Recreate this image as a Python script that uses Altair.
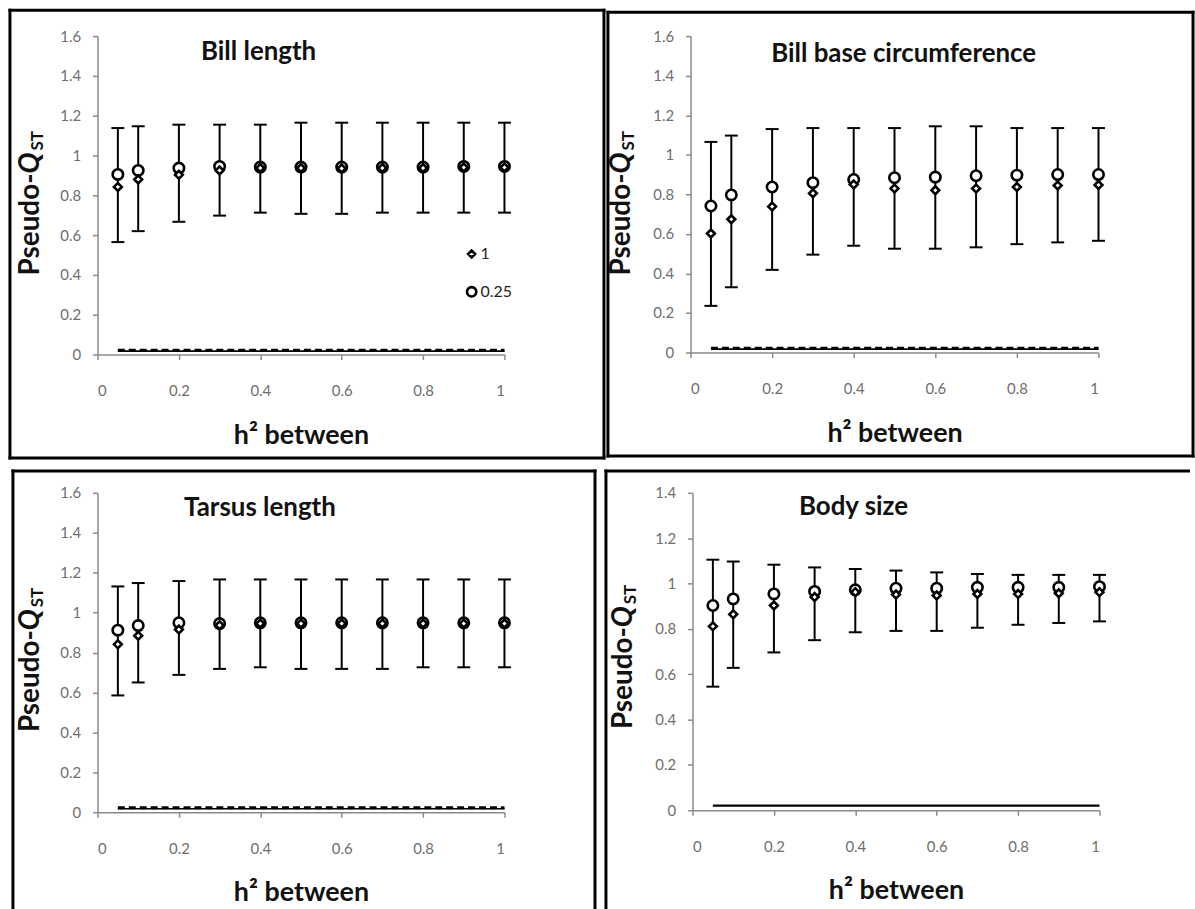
import altair as alt
import pandas as pd

# ---------------- data ----------------
H2 = [0.05, 0.1, 0.2, 0.3, 0.4, 0.5, 0.6, 0.7, 0.8, 0.9, 1.0]
SERIES = ["1", "0.25"]
SERIES_SHAPES = ["diamond", "circle"]
X_TICKS = [0, 0.2, 0.4, 0.6, 0.8, 1]
Y_TICKS_16 = [0, 0.2, 0.4, 0.6, 0.8, 1, 1.2, 1.4, 1.6]
Y_TICKS_14 = [0, 0.2, 0.4, 0.6, 0.8, 1, 1.2, 1.4]
BASE_X = [0.05, 1.0]

# Bill length
BL_HI = [1.138, 1.147, 1.155, 1.155, 1.155, 1.165, 1.165, 1.165, 1.165, 1.165, 1.165]
BL_LO = [0.565, 0.620, 0.667, 0.698, 0.713, 0.707, 0.707, 0.713, 0.713, 0.713, 0.713]
BL_D = [0.842, 0.880, 0.903, 0.925, 0.937, 0.937, 0.935, 0.937, 0.937, 0.940, 0.940]
BL_C = [0.905, 0.925, 0.937, 0.945, 0.942, 0.942, 0.942, 0.942, 0.942, 0.945, 0.945]
BL_SOLID = [0.017, 0.017]
BL_DASH = [0.022, 0.022]

# Bill base circumference
BB_HI = [1.065, 1.097, 1.130, 1.135, 1.135, 1.135, 1.144, 1.144, 1.135, 1.135, 1.135]
BB_LO = [0.236, 0.330, 0.418, 0.495, 0.540, 0.525, 0.525, 0.532, 0.548, 0.557, 0.565]
BB_D = [0.602, 0.674, 0.738, 0.805, 0.850, 0.830, 0.820, 0.830, 0.837, 0.845, 0.847]
BB_C = [0.741, 0.797, 0.837, 0.859, 0.875, 0.884, 0.887, 0.894, 0.897, 0.900, 0.900]
BB_SOLID = [0.017, 0.017]
BB_DASH = [0.022, 0.022]

# Tarsus length
TL_HI = [1.131, 1.148, 1.158, 1.166, 1.166, 1.166, 1.166, 1.166, 1.166, 1.166, 1.166]
TL_LO = [0.585, 0.650, 0.688, 0.718, 0.726, 0.718, 0.718, 0.718, 0.726, 0.726, 0.726]
TL_D = [0.841, 0.884, 0.915, 0.937, 0.945, 0.945, 0.945, 0.945, 0.945, 0.945, 0.945]
TL_C = [0.912, 0.935, 0.949, 0.945, 0.949, 0.949, 0.949, 0.949, 0.949, 0.949, 0.949]
TL_SOLID = [0.017, 0.017]
TL_DASH = [0.022, 0.022]

# Body size
BS_HI = [1.105, 1.097, 1.083, 1.071, 1.064, 1.057, 1.049, 1.042, 1.038, 1.038, 1.038]
BS_LO = [0.545, 0.628, 0.696, 0.750, 0.785, 0.791, 0.791, 0.805, 0.818, 0.826, 0.833]
BS_D = [0.811, 0.864, 0.903, 0.940, 0.962, 0.951, 0.947, 0.954, 0.954, 0.957, 0.962]
BS_C = [0.903, 0.932, 0.954, 0.965, 0.972, 0.979, 0.979, 0.983, 0.983, 0.983, 0.986]
BS_SOLID = [0.02, 0.02]

FONT = "Lato"
ONE = alt.Data(values=[{"k": 0}])
SIZES = {"1": 62, "0.25": 110}
PAD_L, PAD_T = 9, 8  # extra invisible room, removed again by negative padding


def edge_rect(x1, y1, x2, y2, color="black", opacity=1):
    # filled rectangle without stroke: its bounds are exact
    return alt.Chart(ONE).mark_rect(color=color, opacity=opacity, strokeWidth=0).encode(
        x=alt.value(x1), x2=alt.value(x2), y=alt.value(y1), y2=alt.value(y2))


def panel(title, W, H, ymax, yticks, lo, hi, d, c, solid, dash,
          pad, edges, title_xy, ytitle_x, ytitle_y, legend_xy=None):
    xs = alt.Scale(domain=[0, 1], nice=False, padding=0, zero=False)
    ys = alt.Scale(domain=[0, ymax], nice=False, padding=0)
    xaxis = alt.Axis(values=X_TICKS, format="~g", title="h² between",
                     titleFont=FONT, titleFontSize=27, titleFontWeight="bold",
                     titleColor="#111", titlePadding=24, labelOverlap=False,
                     tickCount=20)
    yaxis = alt.Axis(values=yticks, format="~g", title=None, labelOverlap=False,
                     tickCount=20)

    layers = [edge_rect(*pad, color="white", opacity=0)]
    for e in edges:
        layers.append(edge_rect(*e))

    # reference lines near zero (axes defined here)
    sdf = pd.DataFrame({"h2": BASE_X, "v": solid})
    layers.append(alt.Chart(sdf).mark_line(
        color="black", strokeWidth=1.6 if dash is not None else 2.2).encode(
        x=alt.X("h2:Q", scale=xs, axis=xaxis),
        y=alt.Y("v:Q", scale=ys, axis=yaxis)))
    if dash is not None:
        ddf = pd.DataFrame({"h2": BASE_X, "v": dash})
        layers.append(alt.Chart(ddf).mark_line(
            color="black", strokeWidth=3, strokeDash=[7, 4]).encode(
            x=alt.X("h2:Q", scale=xs), y=alt.Y("v:Q", scale=ys)))

    bdf = pd.DataFrame({"h2": H2, "lo": lo, "hi": hi})
    layers.append(alt.Chart(bdf).mark_rule(color="black", strokeWidth=2).encode(
        x=alt.X("h2:Q", scale=xs), y=alt.Y("lo:Q", scale=ys), y2="hi:Q"))
    for f in ["lo", "hi"]:
        layers.append(alt.Chart(bdf).mark_rule(
            color="black", strokeWidth=2, xOffset=-6.5, x2Offset=6.5).encode(
            x=alt.X("h2:Q", scale=xs), x2="h2:Q", y=alt.Y(f + ":Q", scale=ys)))

    cdf = pd.DataFrame({"h2": H2, "q": c})
    ddf2 = pd.DataFrame({"h2": H2, "q": d})
    for df_, shp in [(cdf, "circle"), (ddf2, "diamond")]:
        sz = SIZES[SERIES[SERIES_SHAPES.index(shp)]]
        layers.append(alt.Chart(df_).mark_point(
            shape=shp, fill="white", stroke="black", strokeWidth=2.6, opacity=1,
            fillOpacity=1, size=sz).encode(
            x=alt.X("h2:Q", scale=xs), y=alt.Y("q:Q", scale=ys)))

    # key in the first panel
    if legend_xy is not None:
        lx, ly = legend_xy
        for i, (lab, shp) in enumerate(zip(SERIES, SERIES_SHAPES)):
            layers.append(alt.Chart(ONE).mark_point(
                shape=shp, fill="white", stroke="black", strokeWidth=2.6, opacity=1,
                fillOpacity=1, size=SIZES[lab] * 0.8).encode(
                x=alt.value(lx), y=alt.value(ly + 38 * i)))
            layers.append(alt.Chart(ONE).mark_text(
                text=lab, align="left", baseline="middle", font=FONT, fontSize=16,
                color="#222").encode(x=alt.value(lx + 9), y=alt.value(ly + 38 * i)))

    # panel title inside the plot area
    layers.append(alt.Chart(ONE).mark_text(
        text=title, align="left", baseline="middle", font=FONT, fontSize=26,
        fontWeight="bold", color="#111").encode(
        x=alt.value(title_xy[0]), y=alt.value(title_xy[1])))

    # y-axis title: Pseudo-Q_ST
    layers.append(alt.Chart(ONE).mark_text(
        text="Pseudo-", angle=270, align="right", baseline="middle", font=FONT,
        fontSize=28, fontWeight="bold", color="#111").encode(
        x=alt.value(ytitle_x), y=alt.value(ytitle_y)))
    layers.append(alt.Chart(ONE).mark_text(
        text="Q", angle=270, align="left", baseline="middle", font=FONT,
        fontSize=28, fontWeight="bold", fontStyle="italic", color="#111").encode(
        x=alt.value(ytitle_x), y=alt.value(ytitle_y)))
    layers.append(alt.Chart(ONE).mark_text(
        text="ST", angle=270, align="left", baseline="middle", font=FONT,
        fontSize=17, fontWeight="bold", color="#111").encode(
        x=alt.value(ytitle_x + 7), y=alt.value(ytitle_y - 23)))

    return alt.layer(*layers).properties(width=W, height=H)


# panel 1: plot at (91, 32) in the page
p1 = panel("Bill length", 409, 320, 1.6, Y_TICKS_16, BL_LO, BL_HI, BL_D, BL_C,
           BL_SOLID, BL_DASH,
           pad=(-91 - PAD_L, -32 - PAD_T, 510.5, 425.5),
           edges=[(-89.5, -27.5, -86.5, 425.5), (-89.5, -27.5, 510.5, -24.5),
                  (507.5, -27.5, 510.5, 425.5), (-89.5, 422.5, 510.5, 425.5)],
           title_xy=(104, 16), ytitle_x=-67, ytitle_y=138, legend_xy=(376, 219))

# panel 2: plot at (686, 34)
p2 = panel("Bill base  circumference", 410, 318, 1.6, Y_TICKS_16, BB_LO, BB_HI, BB_D, BB_C,
           BB_SOLID, BB_DASH,
           pad=(-84.5, -34 - PAD_T, 506.5, 423.5),
           edges=[(-84.5, -25.5, -81.5, 423.5), (-84.5, -25.5, 506.5, -22.5),
                  (503.5, -25.5, 506.5, 423.5), (-84.5, 420.5, 506.5, 423.5)],
           title_xy=(81, 18), ytitle_x=-69, ytitle_y=138)

# panel 3: plot at (98, 487)
p3 = panel("Tarsus length", 409, 321, 1.6, Y_TICKS_16, TL_LO, TL_HI, TL_D, TL_C,
           TL_SOLID, TL_DASH,
           pad=(-98 - PAD_L, -29.5, 501.5, 422),
           edges=[(-86.5, -23.5, -83.5, 422), (-86.5, -23.5, 501.5, -20.5),
                  (498.5, -23.5, 501.5, 422)],
           title_xy=(87, 15), ytitle_x=-67, ytitle_y=138)

# panel 4: plot at (695, 490)
p4 = panel("Body size", 409, 319, 1.4, Y_TICKS_14, BS_LO, BS_HI, BS_D, BS_C,
           BS_SOLID, None,
           pad=(-95.5, -32.5, 500, 419),
           edges=[(-88.5, -23.5, -85.5, 419), (-88.5, -23.5, 500, -20.5)],
           title_xy=(107, 14), ytitle_x=-69, ytitle_y=135)

top = alt.hconcat(p1, p2, spacing=0)
bottom = alt.hconcat(p3, p4, spacing=0)

chart = alt.vconcat(top, bottom, spacing=0).properties(
    padding={"left": -PAD_L, "top": -PAD_T, "right": 0, "bottom": 0},
    background="white",
).configure_view(strokeWidth=0).configure_axis(
    grid=False, domainColor="#8a8a8a", domainWidth=1.5, tickColor="#8a8a8a",
    tickWidth=1.5, tickSize=5, labelFont=FONT, labelFontSize=15, labelColor="#6e6e6e",
    labelOverlap=False,
).configure_axisX(labelPadding=24).configure_axisY(labelPadding=12)

chart.save("out.html", embed_options={"renderer": "svg", "actions": False})
